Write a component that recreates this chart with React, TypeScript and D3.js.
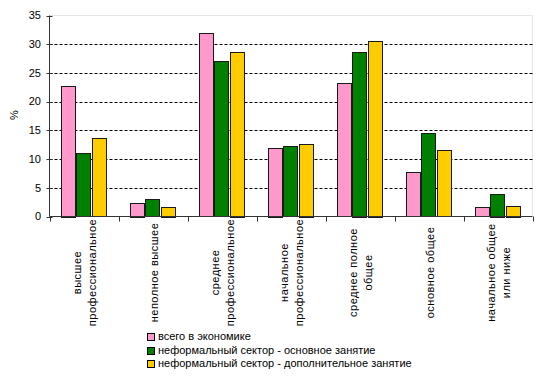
import React from "react";
import * as d3 from "d3";

const categories: string[][] = [
  ["высшее", "профессиональное"],
  ["неполное высшее"],
  ["среднее", "профессиональное"],
  ["начальное", "профессиональное"],
  ["среднее полное", "общее"],
  ["основное общее"],
  ["начальное общее", "или ниже"],
];
const seriesNames = [
  "всего в экономике",
  "неформальный сектор - основное занятие",
  "неформальный сектор - дополнительное занятие",
];
const totalEconomy = [22.8, 2.4, 31.9, 12.0, 23.2, 7.7, 1.6];
const informalMain = [11.0, 3.0, 27.0, 12.2, 28.7, 14.5, 4.0];
const informalExtra = [13.6, 1.7, 28.7, 12.7, 30.6, 11.5, 1.9];
const yTicks = [0, 5, 10, 15, 20, 25, 30, 35];
const colors = ["#FF99CC", "#008000", "#FFCC00"];

const W = 547, H = 376;
const left = 49.5, right = 532.5, top = 15.5, bottom = 216.5;
const font = "Arial, 'Liberation Sans', sans-serif";

export default function App() {
  const series = [totalEconomy, informalMain, informalExtra];
  const x = d3.scaleBand<number>().domain(d3.range(categories.length)).range([left, right]).paddingInner(0).paddingOuter(0);
  const y = d3.scaleLinear().domain([0, 35]).range([bottom, top]);
  const bw = x.bandwidth();
  const groupW = bw / 1.5;
  const inner = d3.scaleBand<number>().domain([0, 1, 2]).range([0, groupW]).padding(0);
  return (
    <svg width={W} height={H} style={{ position: "absolute", left: 0, top: 0, background: "#fff" }} fontFamily={font}>
      <rect x={0} y={0} width={W} height={H} fill="#fff" />
      {/* plot border */}
      <line x1={left} x2={right} y1={top} y2={top} stroke="#e6e6e6" />
      <line x1={right} x2={right} y1={top} y2={bottom} stroke="#e6e6e6" />
      {/* grid */}
      {yTicks.filter(t => t > 0 && t < 35).map(t => (
        <line key={t} x1={left} x2={right} y1={Math.round(y(t)) + 0.5} y2={Math.round(y(t)) + 0.5} stroke="#000" strokeDasharray="3,2" />
      ))}
      {/* bars */}
      {categories.map((_, i) => {
        const gx = (x(i) as number) + (bw - groupW) / 2;
        return series.map((s, j) => (
          <rect key={`${i}-${j}`} x={Math.round(gx + (inner(j) as number)) + 0.5} y={Math.round(y(s[i])) + 0.5}
            width={Math.round(inner.bandwidth()) - 1} height={Math.round(bottom - y(s[i]))}
            fill={colors[j]} stroke="#1a1a1a" strokeWidth={1} />
        ));
      })}
      {/* axes */}
      <line x1={left} x2={left} y1={top} y2={bottom} stroke="#333" />
      <line x1={left} x2={right} y1={bottom} y2={bottom} stroke="#333" />
      {yTicks.map(t => (
        <g key={t}>
          <line x1={left - 3} x2={left + 3} y1={Math.round(y(t)) + 0.5} y2={Math.round(y(t)) + 0.5} stroke="#333" />
          <text x={41} y={y(t)} dy="0.35em" textAnchor="end" fontSize={11} fill="#000">{t}</text>
        </g>
      ))}
      {d3.range(categories.length + 1).map(i => {
        const xx = Math.round(left + i * bw) + 0.5;
        return <line key={i} x1={xx} x2={xx} y1={bottom} y2={bottom + 5} stroke="#333" />;
      })}
      <text transform={`translate(18,115) rotate(-90)`} textAnchor="middle" fontSize={11}>%</text>
      {/* category labels */}
      {categories.map((lines, i) => {
        const cx = (x(i) as number) + bw / 2 + 0.5;
        const n = lines.length;
        const maxLen = 97;
        const cy = 224 + maxLen / 2;
        return lines.map((ln, k) => {
          const lx = cx + (k - (n - 1) / 2) * 15.6;
          return (
            <text key={`${i}-${k}`} transform={`translate(${lx + 4},${cy}) rotate(-90)`} textAnchor="middle" fontSize={11} letterSpacing={0.5} fill="#000">{ln}</text>
          );
        });
      })}
      {/* legend */}
      {seriesNames.map((nm, j) => {
        const ly = 336.5 + j * 13.5;
        return (
          <g key={nm}>
            <rect x={147.5} y={Math.round(ly - 3.5) + 0.5} width={7} height={7} fill={colors[j]} stroke="#000" />
            <text x={158} y={ly} dy="0.35em" fontSize={11} fill="#000">{nm}</text>
          </g>
        );
      })}
    </svg>
  );
}
